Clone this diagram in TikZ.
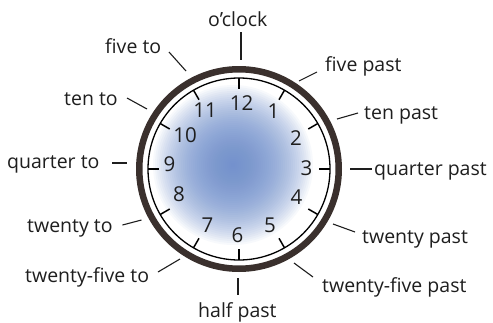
\documentclass[tikz,border=0pt]{standalone}
\usepackage{fontspec}
\setmainfont{Open Sans}
\usetikzlibrary{calc}
\definecolor{ringcol}{RGB}{58,48,45}
\definecolor{inkcol}{RGB}{30,30,30}
\definecolor{glowblue}{RGB}{105,138,205}
\begin{document}
\begin{tikzpicture}[x=1pt,y=-1pt,
  lbl/.style={inner sep=0pt, anchor=base west, text=inkcol, font=\fontsize{19.5}{22}\selectfont},
  num/.style={inner sep=0pt, text=inkcol, font=\fontsize{20.5}{23}\selectfont},
  pointer/.style={draw=inkcol, line width=1.1pt},
  tickmark/.style={draw=black, line width=1.5pt}]
\useasboundingbox[fill=white] (0,0) rectangle (493,322);
\coordinate (c) at (239,169);
\coordinate (g) at (233,165);
% glow
\begin{scope}
  \clip (c) circle (91);
  \foreach \r in {80,78,...,2}{
    \fill[glowblue, opacity=0.05] (g) circle (\r);
  }
\end{scope}
% rings
\fill[ringcol, even odd rule] (c) circle (103) (c) circle (96.5);
\draw[black, line width=1.3pt] (c) circle (91);
% ticks
\foreach \a in {0,30,...,330}{
  \draw[tickmark] ($(c)+(\a-90:91)$) -- ($(c)+(\a-90:80)$);
}
% numbers
\node[num] (n12) at (241.5,103) {12};
\node[num] (n1) at (273.5,111.5) {1};
\node[num] (n2) at (296,138) {2};
\node[num] (n3) at (306.5,168) {3};
\node[num] (n4) at (296.5,197.5) {4};
\node[num] (n5) at (270,225) {5};
\node[num] (n6) at (237.5,235) {6};
\node[num] (n7) at (207.5,225) {7};
\node[num] (n8) at (179,194) {8};
\node[num] (n9) at (169.5,164) {9};
\node[num] (n10) at (185,135) {10};
\node[num] (n11) at (205,110) {11};
% labels
\node[lbl] (oclock) at (208,26) {o’clock};
\node[lbl] (fiveto) at (105,53) {five to};
\node[lbl] (tento) at (64,105) {ten to};
\node[lbl] (quarterto) at (7,168) {quarter to};
\node[lbl] (twentyto) at (27,232) {twenty to};
\node[lbl] (twentyfiveto) at (25,282) {twenty-five to};
\node[lbl] (halfpast) at (198,317) {half past};
\node[lbl] (twentyfivepast) at (322,292) {twenty-five past};
\node[lbl] (twentypast) at (362,243) {twenty past};
\node[lbl] (quarterpast) at (374,175) {quarter past};
\node[lbl] (tenpast) at (364,119) {ten past};
\node[lbl] (fivepast) at (325,71) {five past};
% pointer coordinates
\coordinate (a1) at (241,32);  \coordinate (b1) at (241,60);
\coordinate (a2) at (169,52);  \coordinate (b2) at (186,71);
\coordinate (a3) at (127,98);  \coordinate (b3) at (147,109);
\coordinate (a4) at (112,163); \coordinate (b4) at (127,163);
\coordinate (a5) at (122.5,225); \coordinate (b5) at (141.5,220);
\coordinate (a6) at (158,272); \coordinate (b6) at (180,259);
\coordinate (a7) at (238,278); \coordinate (b7) at (238,295);
\coordinate (a8) at (294,263); \coordinate (b8) at (313,277);
\coordinate (a9) at (333,224); \coordinate (b9) at (355,232);
\coordinate (a10) at (350,169); \coordinate (b10) at (372,169);
\coordinate (a11) at (337,119); \coordinate (b11) at (358,113);
\coordinate (a12) at (299,81); \coordinate (b12) at (317,72);
\foreach \i in {1,...,12}{ \draw[pointer] (a\i) -- (b\i); }
\end{tikzpicture}
\end{document}
